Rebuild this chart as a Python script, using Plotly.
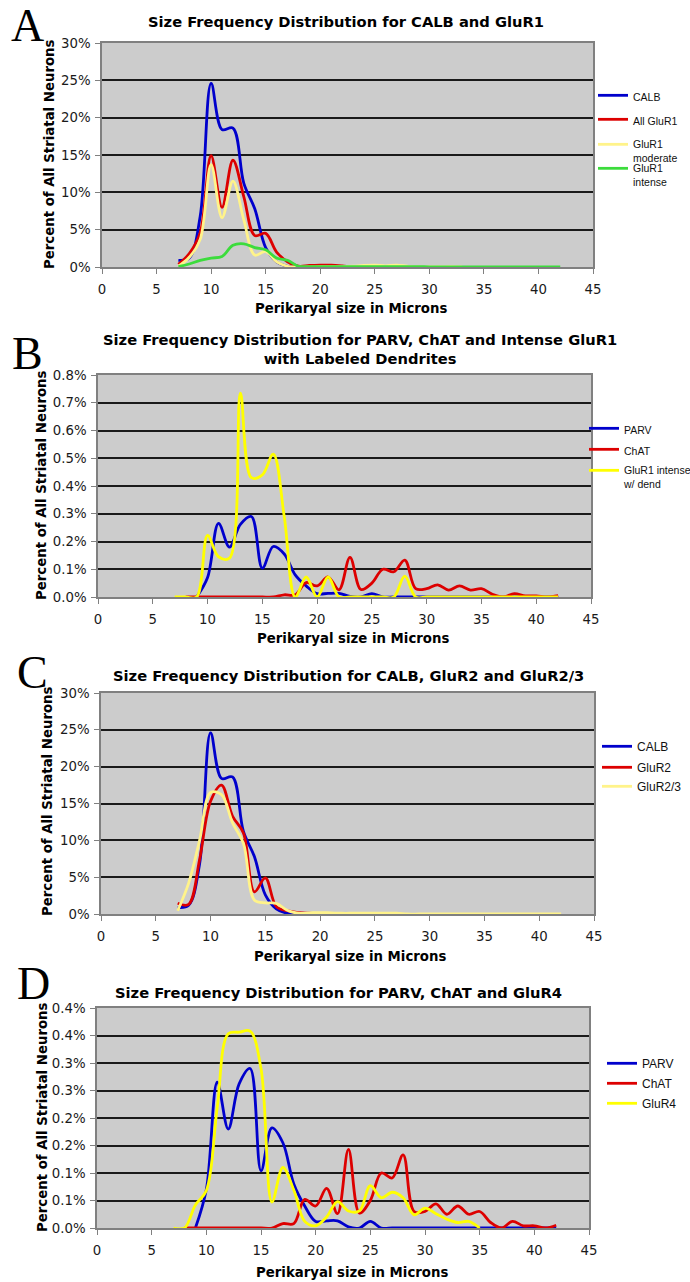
import plotly.graph_objects as go

W, H = 690, 1282


def px(x):
    return x / W


def py(y):
    return 1 - y / H


# ---------------- data ----------------
sizes = [7, 8, 9, 10, 11, 12, 13, 14, 15, 16, 17, 18, 19, 20, 21, 22, 23, 24,
         25, 26, 27, 28, 29, 30, 31, 32, 33, 34, 35, 36, 37, 38, 39, 40, 41, 42]

# Panel A / C : CALB (percent)
calb = [0.9, 1.2, 6.8, 24.6, 18.4, 18.6, 11.2, 7.8, 2.6, 0.7, 0.1, 0.0,
        None, None, None, None, None, None, None, None, None, None, None, None,
        None, None, None, None, None, None, None, None, None, None, None, None]
# Panel A
all_glur1 = [0.35, 1.8, 4.6, 14.9, 8.0, 14.3, 9.4, 4.2, 4.5, 2.0, 0.7, 0.1,
             0.2, 0.25, 0.25, 0.15, 0.0, None, None, None, None, None, None, None,
             None, None, None, None, None, None, None, None, None, None, None, None]
glur1_moderate = [0.1, 1.3, 3.7, 13.7, 6.6, 11.5, 6.3, 1.6, 2.1, 0.7, 0.1, 0.0,
                  0.0, 0.05, 0.05, 0.05, 0.1, 0.2, 0.25, 0.15, 0.25, 0.1, 0.0, 0.0,
                  0.0, 0.05, 0.0, None, None, None, None, None, None, None, None, None]
glur1_intense = [0.05, 0.4, 0.9, 1.2, 1.4, 2.9, 3.1, 2.6, 2.3, 1.2, 0.9, 0.1,
                 0.05, 0.05, 0.05, 0.05, 0.05, 0.05, 0.05, 0.05, 0.05, 0.05, 0.05, 0.02,
                 0.02, 0.02, 0.02, 0.02, 0.02, 0.02, 0.02, 0.02, 0.02, 0.02, 0.02, 0.02]
# Panel C
glur2 = [1.45, 1.3, 7.4, 15.3, 17.5, 13.3, 11.0, 3.0, 4.9, 1.0, 0.45, 0.2,
         0.1, 0.05, 0.0, None, None, None, None, None, None, None, None, None,
         None, None, None, None, None, None, None, None, None, None, None, None]
glur23 = [0.45, 4.2, 10.0, 16.5, 16.2, 12.4, 9.6, 1.9, 1.5, 1.45, 0.5, 0.1,
          0.15, 0.2, 0.15, 0.1, 0.1, 0.1, 0.1, 0.1, 0.1, 0.0, 0.0, 0.0,
          0.0, 0.0, 0.0, 0.0, 0.0, 0.0, 0.0, 0.0, 0.0, 0.0, 0.0, 0.0]
# Panels B / D
parv = [None, None, 0.0, 0.07, 0.265, 0.18, 0.262, 0.29, 0.104, 0.182, 0.155, 0.08,
        0.04, 0.012, 0.013, 0.013, 0.002, 0.0, 0.012, 0.0, 0.0, 0.0, 0.0, 0.0,
        0.0, 0.0, 0.0, 0.0, 0.0, 0.0, 0.0, 0.0, 0.0, 0.0, 0.0, 0.0]
chat = [None, 0.0, 0.0, 0.0, 0.0, 0.0, 0.0, 0.0, 0.0, 0.0, 0.008, 0.008,
        0.052, 0.04, 0.072, 0.026, 0.143, 0.027, 0.05, 0.1, 0.091, 0.133, 0.03, 0.03,
        0.044, 0.025, 0.04, 0.025, 0.03, 0.01, 0.0, 0.012, 0.004, 0.004, 0.0, 0.005]
glur1_int_dend = [0.0, 0.0, 0.0, 0.222, 0.145, 0.14, 0.735, 0.43, 0.44, 0.515, 0.29, 0.0,
                  0.072, 0.0, 0.072, 0.0, 0.0, 0.0, 0.0, 0.0, 0.0, 0.075, 0.0, 0.0,
                  0.0, 0.0, 0.0, 0.0, 0.0, 0.0, 0.0, 0.0, 0.0, 0.0, 0.0, 0.0]
glur4 = [0.0, 0.0, 0.042, 0.068, 0.22, 0.353, 0.356, 0.358, 0.29, 0.047, 0.11, 0.069,
         0.012, 0.004, 0.02, 0.048, 0.031, 0.031, 0.077, 0.055, 0.065, 0.055, 0.024, 0.036,
         0.026, 0.016, 0.01, 0.012, 0.0, None, None, None, None, None, None, None]

x_ticks = [0, 5, 10, 15, 20, 25, 30, 35, 40, 45]
pct30_vals = [0, 5, 10, 15, 20, 25, 30]
pct30_text = ["0%", "5%", "10%", "15%", "20%", "25%", "30%"]
b_vals = [0, 0.1, 0.2, 0.3, 0.4, 0.5, 0.6, 0.7, 0.8]
b_text = ["0.0%", "0.1%", "0.2%", "0.3%", "0.4%", "0.5%", "0.6%", "0.7%", "0.8%"]
d_vals = [0, 0.05, 0.1, 0.15, 0.2, 0.25, 0.3, 0.35, 0.4]
d_text = ["0.0%", "0.1%", "0.1%", "0.2%", "0.2%", "0.3%", "0.3%", "0.4%", "0.4%"]

BLUE = "#0000CC"
RED = "#DD0000"
PALE_YELLOW = "#FFF38A"
YELLOW = "#FFFF00"
GREEN = "#3CDC3C"

# (axis suffix, [(name, values, colour, legend text-left px, legend first-line y px, font size)])
panels = [
    ("", [("CALB", calb, BLUE, 633, 93, 10.5),
          ("All GluR1", all_glur1, RED, 633, 117, 10.5),
          ("GluR1<br>moderate", glur1_moderate, PALE_YELLOW, 633, 142, 10.5),
          ("GluR1<br>intense", glur1_intense, GREEN, 633, 166, 10.5)]),
    ("2", [("PARV", parv, BLUE, 624, 426, 10.5),
           ("ChAT", chat, RED, 624, 447, 10.5),
           ("GluR1 intense<br>w/ dend", glur1_int_dend, YELLOW, 624, 468, 10.5)]),
    ("3", [("CALB", calb, BLUE, 637, 743, 12),
           ("GluR2", glur2, RED, 637, 764, 12),
           ("GluR2/3", glur23, PALE_YELLOW, 637, 783, 12)]),
    ("4", [("PARV", parv, BLUE, 642, 1060, 12),
           ("ChAT", chat, RED, 642, 1080, 12),
           ("GluR4", glur4, YELLOW, 642, 1100, 12)]),
]

LEG_FONT = "Liberation Sans"
TEXT_OFFSET = 40   # legend left edge -> text start
LINE_OFFSET = 11   # legend top -> first text line centre

fig = go.Figure()
legends = {}
n = 0
for suf, series in panels:
    for name, vals, col, tx, ty, fs in series:
        n += 1
        key = "legend" if n == 1 else "legend%d" % n
        fig.add_trace(go.Scatter(
            x=sizes, y=vals, name=name, mode="lines",
            line=dict(color=col, width=2.8, shape="spline", smoothing=1.0),
            xaxis="x" + suf, yaxis="y" + suf, legend=key,
            connectgaps=False, hoverinfo="skip"))
        legends[key] = dict(x=px(tx - TEXT_OFFSET), y=py(ty - LINE_OFFSET),
                            xanchor="left", yanchor="top",
                            font=dict(family=LEG_FONT, size=fs, color="#111111"),
                            bgcolor="rgba(255,255,255,0)", borderwidth=0,
                            valign="top", itemwidth=30,
                            itemclick=False, itemdoubleclick=False)

# ------------- layout -------------
FONT = "DejaVu Sans"
TICKFONT = dict(family=FONT, size=13.3, color="#1a1a1a")

# plot-area pixel boxes: (left, right, top, bottom)
boxes = {
    "": (102, 593, 43, 267),
    "2": (98, 591, 375, 597),
    "3": (101, 594, 693, 914),
    "4": (97, 589, 1008, 1228),
}
yticks = {
    "": ([0, 30], pct30_vals, pct30_text),
    "2": ([0, 0.8], b_vals, b_text),
    "3": ([0, 30], pct30_vals, pct30_text),
    "4": ([0, 0.4], d_vals, d_text),
}

layout = dict(
    width=W, height=H, autosize=False,
    margin=dict(l=0, r=0, t=0, b=0, pad=0, autoexpand=False),
    paper_bgcolor="white", plot_bgcolor="#CCCCCC",
    showlegend=True,
)

for suf, (l, r, t, b) in boxes.items():
    rng, tv, tt = yticks[suf]
    xa = dict(domain=[px(l), px(r)], anchor="y" + suf, range=[0, 45],
              tickmode="array", tickvals=x_ticks, showgrid=False, zeroline=False,
              showline=True, linecolor="#808080", linewidth=1.5, mirror=True,
              ticks="outside", ticklen=5, tickcolor="#808080", tickwidth=1.2,
              tickfont=TICKFONT, ticklabelstandoff=4, fixedrange=True)
    ya = dict(domain=[py(b), py(t)], anchor="x" + suf, range=rng,
              tickmode="array", tickvals=tv, ticktext=tt,
              showgrid=True, gridcolor="#1a1a1a", gridwidth=1.5, zeroline=False,
              showline=True, linecolor="#808080", linewidth=1.5, mirror=True,
              ticks="outside", ticklen=5, tickcolor="#808080", tickwidth=1.2,
              tickfont=TICKFONT, ticklabelstandoff=2, fixedrange=True)
    layout["xaxis" + suf] = xa
    layout["yaxis" + suf] = ya

layout.update(legends)
fig.update_layout(**layout)

annotations = []


def ann(text, x, y, size, family=FONT, angle=0, bold=True):
    t = "<b>" + text + "</b>" if bold else text
    annotations.append(dict(text=t, x=px(x), y=py(y), xref="paper", yref="paper",
                            xanchor="center", yanchor="middle", showarrow=False,
                            textangle=angle,
                            font=dict(family=family, size=size, color="black")))


# panel letters
for letter, (lx, ly) in zip("ABCD", [(27, 25), (27, 353), (32, 672), (33, 983)]):
    ann(letter, lx, ly, 46, family="Liberation Serif", bold=False)

# chart titles
ann("Size Frequency Distribution for CALB and GluR1", 346, 22, 14.7)
ann("Size Frequency Distribution for PARV, ChAT and Intense GluR1<br>with Labeled Dendrites",
    360, 349.5, 14.7)
ann("Size Frequency Distribution for CALB, GluR2 and GluR2/3", 348, 675, 14.7)
ann("Size Frequency Distribution for PARV, ChAT and GluR4", 338, 992, 14.7)

# axis titles
for ax, ay in [(351, 309), (353, 638), (350, 956), (352, 1272)]:
    ann("Perikaryal size in Microns", ax, ay, 13.3)
for ax, ay in [(49, 154), (41, 485), (47, 801), (42, 1117)]:
    ann("Percent of All Striatal Neurons", ax, ay, 13.3, angle=-90)

fig.update_layout(annotations=annotations)

fig.write_html("out.html")
